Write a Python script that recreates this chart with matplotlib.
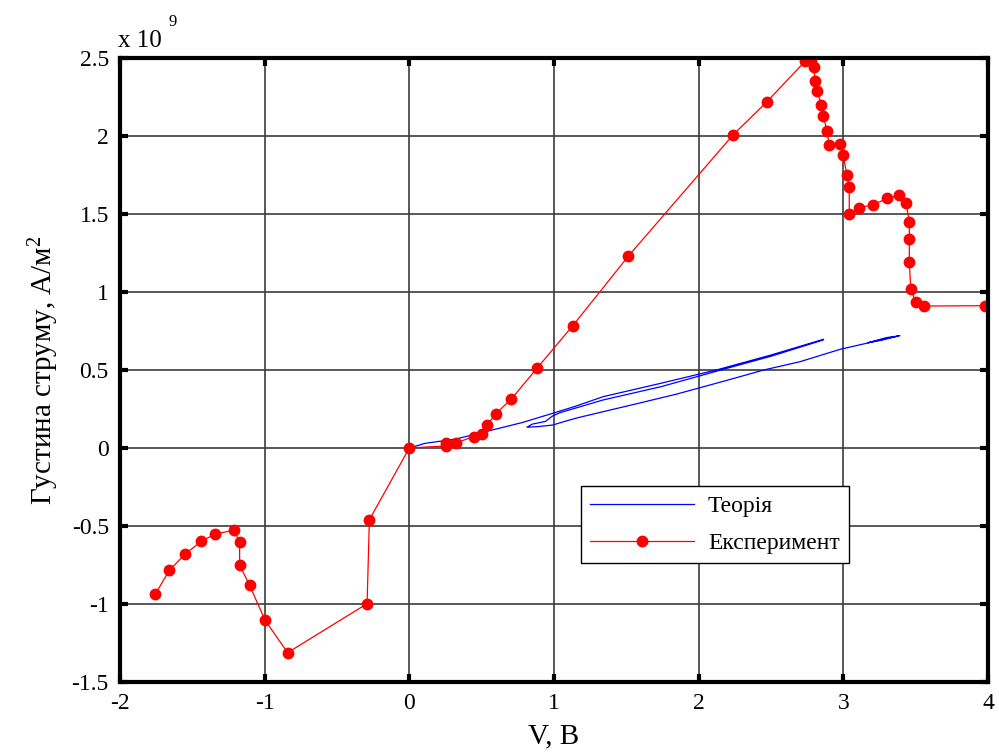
import matplotlib
matplotlib.use("Agg")
import matplotlib.pyplot as plt

plt.rcParams['font.family'] = ['Liberation Serif', 'DejaVu Serif']
plt.rcParams['mathtext.fontset'] = 'custom'
plt.rcParams['mathtext.rm'] = 'Liberation Serif'
plt.rcParams['mathtext.it'] = 'Liberation Serif'
plt.rcParams['axes.unicode_minus'] = False

# Experimental current density (units of 1e9 A/m^2) versus voltage
exp_v = [-1.756, -1.659, -1.548, -1.438, -1.341, -1.214, -1.173, -1.173, -1.104,
         -0.998, -0.841, -0.292, -0.276, 0.0, 0.251, 0.251, 0.320, 0.445, 0.500,
         0.539, 0.597, 0.705, 0.883, 1.130, 1.514, 2.237, 2.472, 2.737, 2.779,
         2.795, 2.806, 2.818, 2.848, 2.862, 2.887, 2.903, 2.975, 2.998, 3.025,
         3.041, 3.041, 3.110, 3.207, 3.304, 3.387, 3.433, 3.456, 3.456, 3.456,
         3.466, 3.500, 3.555, 3.980]
exp_j = [-0.938, -0.784, -0.679, -0.598, -0.551, -0.528, -0.600, -0.750, -0.880,
         -1.103, -1.312, -0.998, -0.460, 0.0, 0.013, 0.030, 0.032, 0.073, 0.092,
         0.149, 0.218, 0.314, 0.512, 0.784, 1.230, 2.006, 2.220, 2.480, 2.490,
         2.440, 2.350, 2.290, 2.200, 2.130, 2.030, 1.940, 1.950, 1.880, 1.750,
         1.670, 1.500, 1.540, 1.560, 1.600, 1.620, 1.570, 1.450, 1.340, 1.190,
         1.020, 0.934, 0.910, 0.912]

# Theoretical curve (forward sweep, return sweep, second forward sweep)
theory_v = [0.0, 0.11, 0.32, 0.55, 0.78, 0.99, 1.15, 1.34, 1.74, 2.13, 2.50, 2.864,
            2.86, 2.50, 2.13, 1.74, 1.34, 1.04, 0.99, 0.94, 0.85, 0.813,
            0.89, 0.99, 1.08, 1.16, 1.60, 1.85, 2.22, 2.45, 2.70, 2.98, 3.16,
            3.30, 3.382, 3.30, 3.17, 3.26, 3.39]
theory_j = [0.0, 0.030, 0.057, 0.110, 0.163, 0.222, 0.268, 0.329, 0.415, 0.502, 0.596, 0.697,
            0.692, 0.588, 0.494, 0.393, 0.308, 0.226, 0.205, 0.170, 0.153, 0.133,
            0.137, 0.147, 0.172, 0.193, 0.290, 0.346, 0.440, 0.500, 0.553, 0.633, 0.671,
            0.703, 0.718, 0.708, 0.675, 0.690, 0.720]

x_ticks = [-2, -1, 0, 1, 2, 3, 4]
y_ticks = [-1.5, -1, -0.5, 0, 0.5, 1, 1.5, 2, 2.5]
y_tick_labels = ['-1.5', '-1', '-0.5', '0', '0.5', '1', '1.5', '2', '2.5']

fig = plt.figure(figsize=(9.99, 7.53), dpi=100)
ax = fig.add_axes([0.1201, 0.0943, 0.8689, 0.8287])

ax.plot(theory_v, theory_j, color='#0000ff', lw=0.9, label='Теорія')
ax.plot(exp_v, exp_j, color='#ff0000', lw=0.9, marker='o', markersize=7.5,
        markeredgecolor='#ff0000', markerfacecolor='#ff0000', label='Експеримент')

ax.set_xlim(-2, 4)
ax.set_ylim(-1.5, 2.5)
ax.set_xticks(x_ticks)
ax.set_xticklabels([str(t) for t in x_ticks])
ax.set_yticks(y_ticks)
ax.set_yticklabels(y_tick_labels)

ax.grid(True, color='#3c3c3c', lw=1.2, ls='-')
ax.set_axisbelow(True)
for s in ax.spines.values():
    s.set_linewidth(3.0)
    s.set_color('black')
ax.tick_params(direction='in', length=6, width=3, labelsize=17,
               top=True, right=True, pad=8)

ax.set_xlabel('V, B', fontsize=21, labelpad=7)
ax.set_ylabel('Густина струму, А/м$^2$', fontsize=21, labelpad=8)

# Scale factor of the current-density axis
fig.text(0.1181, 1 - 47 / 753, 'x 10', fontsize=18, ha='left', va='baseline')
fig.text(0.1725, 1 - 22 / 753, '9', fontsize=12, ha='center', va='center')

leg = ax.legend(loc='lower left', bbox_to_anchor=(0.531, 0.191), fontsize=17,
                frameon=True, fancybox=False, edgecolor='black', framealpha=1,
                handlelength=4.4, borderpad=0.38, labelspacing=0.65,
                handletextpad=0.6, borderaxespad=0)
leg.get_frame().set_linewidth(1.0)

fig.savefig('out.png', dpi=100)
